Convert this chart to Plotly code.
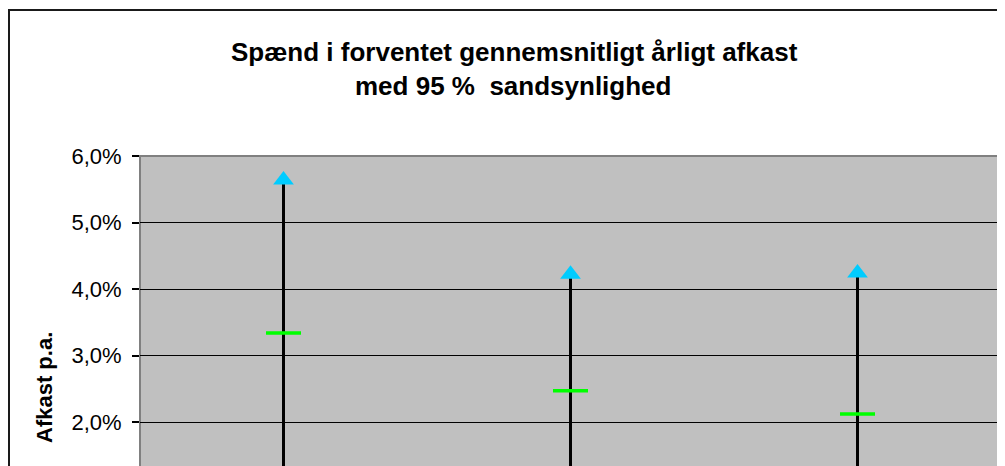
import plotly.graph_objects as go

# Data (fractions)
categories = [0, 1, 2]
high_values = [0.0564, 0.0422, 0.0424]
mid_values = [0.0334, 0.0247, 0.0212]
low_values = [0.010, 0.007, 0.000]
y_ticks = [0.02, 0.03, 0.04, 0.05, 0.06]

OFF = 8  # page body margin
W, H = 1005 - OFF, 466 - OFF
L, R, T, B = 140 - OFF, 4, 156 - OFF, 0
plot_w = W - L - R
plot_h = H - T - B
px_per_pct = 66.5
y_top = 0.06
y_bot = y_top - plot_h / px_per_pct / 100.0

# page pixel -> paper coordinate helpers
def px_x(px):
    return (px - OFF - L) / plot_w

def px_y(py):
    return 1 + (T + OFF - py) / plot_h

FONT = "Liberation Sans, Arial, sans-serif"

fig = go.Figure()

# high-low lines
fig.add_trace(go.Scatter(
    x=categories, y=mid_values, mode="markers",
    marker=dict(size=1, color="rgba(0,0,0,0)"),
    error_y=dict(type="data", symmetric=False,
                 array=[h - m for h, m in zip(high_values, mid_values)],
                 arrayminus=[m - l for m, l in zip(mid_values, low_values)],
                 thickness=3, width=0, color="#000000"),
    showlegend=False, hoverinfo="skip"))

# mid dashes
fig.add_trace(go.Scatter(
    x=categories, y=mid_values, mode="markers",
    marker=dict(symbol="line-ew", size=25, color="#00FF00",
                line=dict(color="#00FF00", width=3.5)),
    showlegend=False))

# high triangles
fig.add_trace(go.Scatter(
    x=categories, y=high_values, mode="markers",
    marker=dict(symbol="triangle-up", size=18, color="#00CCFF",
                line=dict(width=0)),
    showlegend=False))

# plot area border
fig.add_shape(type="rect", xref="paper", yref="paper",
              x0=0, x1=1, y0=-0.3, y1=1,
              line=dict(color="#808080", width=2), layer="below")
# chart outer border
fig.add_shape(type="rect", xref="paper", yref="paper",
              x0=px_x(9), x1=1.2, y0=-0.5, y1=px_y(10),
              line=dict(color="#1a1a1a", width=2), layer="above")

# title lines
fig.add_annotation(text="<b>Spænd i forventet gennemsnitligt årligt afkast</b>",
                   xref="paper", yref="paper", x=px_x(514), y=px_y(52),
                   xanchor="center", yanchor="middle", showarrow=False,
                   font=dict(family=FONT, size=26, color="#000000"))
fig.add_annotation(text="<b>med 95 %  sandsynlighed</b>",
                   xref="paper", yref="paper", x=px_x(513), y=px_y(86),
                   xanchor="center", yanchor="middle", showarrow=False,
                   font=dict(family=FONT, size=26, color="#000000"))
# axis title
fig.add_annotation(text="<b>Afkast p.a.</b>", textangle=-90,
                   xref="paper", yref="paper", x=px_x(44), y=px_y(388),
                   xanchor="center", yanchor="middle", showarrow=False,
                   font=dict(family=FONT, size=22, color="#000000"))

fig.update_layout(
    width=W, height=H,
    margin=dict(l=L, r=R, t=T, b=B, pad=0),
    paper_bgcolor="#FFFFFF", plot_bgcolor="#C0C0C0",
    separators=", ",
    showlegend=False,
    xaxis=dict(range=[-0.5, 2.5], showgrid=False, zeroline=False,
               showticklabels=False, ticks="", showline=False, fixedrange=True),
    yaxis=dict(range=[y_bot, y_top], tickvals=y_ticks, tickformat=".1%",
               showgrid=True, gridcolor="#000000", gridwidth=1,
               zeroline=False, showline=False,
               ticks="outside", ticklen=7, tickwidth=1.5, tickcolor="#000000",
               ticklabelstandoff=6,
               tickfont=dict(family=FONT, size=22, color="#000000")),
)

fig.write_html("out.html")
